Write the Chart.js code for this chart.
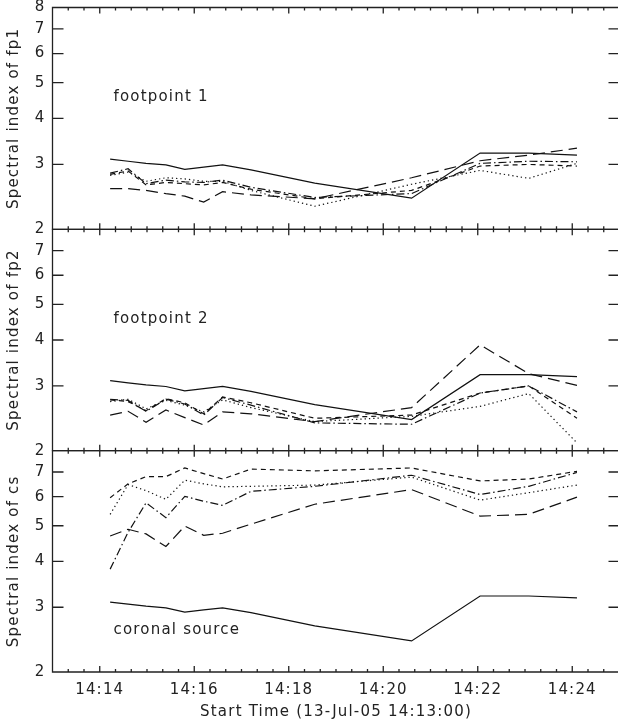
<!DOCTYPE html>
<html><head><meta charset="utf-8">
<script src="https://cdn.jsdelivr.net/npm/chart.js@4"></script>
<style>
html,body{margin:0;padding:0;background:#fff;overflow:hidden;width:618px;height:725px;}
canvas{position:absolute;left:0;top:0;}
</style></head><body>
<canvas id="c1" width="640" height="725"></canvas>
<canvas id="c2" width="640" height="725"></canvas>
<canvas id="c3" width="640" height="725"></canvas>
<script>
// time in minutes after 14:00
const times = [14.22, 14.6, 14.98, 15.4, 15.8, 16.2, 16.6, 17.2, 18.55, 20.6, 22.05, 23.08, 24.1];
const xTickValues = [14, 16, 18, 20, 22, 24];
const yTickValues = [2, 3, 4, 5, 6, 7, 8];

const solidSeries = [3.10, 3.06, 3.02, 2.99, 2.91, 2.95, 2.99, 2.90, 2.67, 2.43, 3.22, 3.22, 3.18];

const fp1Dotted   = [2.80, 2.86, 2.70, 2.76, 2.74, 2.70, 2.70, 2.55, 2.31, 2.65, 2.89, 2.75, 3.02];
const fp1Dashed   = [2.82, 2.88, 2.64, 2.68, 2.66, 2.64, 2.68, 2.57, 2.42, 2.55, 2.97, 3.00, 2.97];
const fp1DashDot  = [2.84, 2.92, 2.66, 2.72, 2.69, 2.68, 2.72, 2.60, 2.44, 2.50, 3.02, 3.06, 3.05];
const fp1LongDash = [2.58, 2.58, 2.55, 2.50, 2.46, 2.37, 2.53, 2.48, 2.42, 2.76, 3.07, 3.18, 3.32];

const fp2Dotted   = [2.72, 2.76, 2.60, 2.74, 2.66, 2.55, 2.75, 2.62, 2.40, 2.48, 2.64, 2.86, 2.10];
const fp2Dashed   = [2.75, 2.72, 2.57, 2.77, 2.70, 2.52, 2.80, 2.70, 2.45, 2.50, 2.87, 3.00, 2.45];
const fp2DashDot  = [2.76, 2.74, 2.56, 2.76, 2.68, 2.50, 2.79, 2.66, 2.38, 2.36, 2.87, 3.00, 2.55];
const fp2LongDash = [2.50, 2.56, 2.39, 2.58, 2.46, 2.35, 2.55, 2.52, 2.40, 2.62, 3.88, 3.24, 3.01];

const csDotted    = [5.37, 6.47, 6.23, 5.90, 6.65, 6.50, 6.38, 6.40, 6.45, 6.78, 5.87, 6.15, 6.45];
const csDashed    = [5.96, 6.50, 6.80, 6.80, 7.18, 6.93, 6.70, 7.13, 7.05, 7.18, 6.62, 6.70, 7.03];
const csDashDot   = [3.81, 4.80, 5.77, 5.26, 6.01, 5.83, 5.68, 6.20, 6.40, 6.86, 6.08, 6.40, 6.98];
const csLongDash  = [4.69, 4.89, 4.75, 4.39, 4.99, 4.71, 4.77, 5.05, 5.72, 6.27, 5.31, 5.37, 5.98];

const yTitles = ['Spectral index of fp1', 'Spectral index of fp2', 'Spectral index of cs'];
const panelLabels = ['footpoint 1', 'footpoint 2', 'coronal source'];
const labelX = [14.29, 14.29, 14.29];
const labelY = [4.56, 4.56, 2.60];
const xTitle = 'Start Time (13-Jul-05 14:13:00)';

const panelData = [
  [solidSeries, fp1Dotted, fp1Dashed, fp1DashDot, fp1LongDash],
  [solidSeries, fp2Dotted, fp2Dashed, fp2DashDot, fp2LongDash],
  [solidSeries, csDotted, csDashed, csDashDot, csLongDash]
];
const dashStyles = [[], [1.3, 3], [5, 4], [8, 3, 1.5, 3], [12, 6]];

// layout (pixel geometry)
const panelTops = [7.5, 229.3, 450.7];
const panelBottoms = [229.3, 450.7, 672];
const W = 640, H = 725;
const INK = '#222';

Chart.defaults.font.family = "'DejaVu Sans', sans-serif";
Chart.defaults.font.size = 15;
Chart.defaults.color = INK;

const framePlugin = {
  id: 'frame',
  beforeDraw(chart) { chart.ctx.letterSpacing = '1.2px'; },
  afterDraw(chart, args, opts) {
    const {ctx, chartArea: {left, right, top, bottom}, scales: {x, y}} = chart;
    ctx.save();
    ctx.strokeStyle = INK;
    ctx.lineWidth = 1.3;
    ctx.beginPath();
    ctx.rect(left, top, right - left, bottom - top);
    for (let k = 0; ; k++) {
      const v = 13 + k / 3;
      if (v > 25.001) break;
      const px = x.getPixelForValue(v);
      const r = (v - 14) / 2;
      const major = Math.abs(r - Math.round(r)) < 1e-6;
      const len = major ? 6 : 3;
      ctx.moveTo(px, bottom); ctx.lineTo(px, bottom - len);
      ctx.moveTo(px, top); ctx.lineTo(px, top + len);
    }
    for (const v of yTickValues) {
      const py = y.getPixelForValue(v);
      ctx.moveTo(left, py); ctx.lineTo(left + 11, py);
      ctx.moveTo(right, py); ctx.lineTo(right - 11, py);
    }
    ctx.stroke();
    ctx.fillStyle = INK;
    ctx.font = "15px 'DejaVu Sans'";
    ctx.letterSpacing = '1.2px';
    ctx.textAlign = 'left';
    ctx.textBaseline = 'middle';
    ctx.fillText(opts.text, x.getPixelForValue(opts.x), y.getPixelForValue(opts.y));
    ctx.restore();
  }
};

function zeroPad(s) { s.paddingTop = 0; s.paddingBottom = 0; s.paddingLeft = 0; s.paddingRight = 0; }

for (let i = 0; i < 3; i++) {
  const isLast = i === 2;
  const datasets = panelData[i].map((vals, j) => ({
    data: vals.map((v, k) => ({x: times[k], y: v})),
    borderColor: '#111',
    borderWidth: 1.2,
    borderDash: dashStyles[j],
    pointRadius: 0,
    fill: false,
    tension: 0
  }));
  new Chart(document.getElementById('c' + (i + 1)), {
    type: 'line',
    data: {datasets},
    plugins: [framePlugin],
    options: {
      responsive: false,
      animation: false,
      events: [],
      layout: {padding: {left: 0, right: W - 619.5, top: panelTops[i], bottom: isLast ? 0 : H - panelBottoms[i]}},
      plugins: {
        legend: {display: false},
        tooltip: {enabled: false},
        frame: {text: panelLabels[i], x: labelX[i], y: labelY[i]}
      },
      scales: {
        x: {
          type: 'linear', min: 13, max: 25,
          display: isLast,
          grid: {display: false, drawTicks: false},
          border: {display: false},
          afterBuildTicks: s => { s.ticks = xTickValues.map(v => ({value: v})); },
          afterFit: s => { s.height = isLast ? H - panelBottoms[2] : 0; zeroPad(s); },
          ticks: {
            padding: 9, autoSkip: false, maxRotation: 0, color: INK,
            font: {size: 15, lineHeight: 1.2},
            callback: v => '14:' + String(v).padStart(2, '0')
          },
          title: {display: true, text: xTitle, color: INK, font: {size: 15, lineHeight: 1.2}, padding: {top: 0, bottom: 4}}
        },
        y: {
          type: 'logarithmic', min: 2, max: 8,
          grid: {display: false, drawTicks: false},
          border: {display: false},
          afterBuildTicks: s => { s.ticks = yTickValues.map(v => ({value: v})); },
          afterFit: s => { s.width = 52.5; zeroPad(s); },
          ticks: {
            padding: 7, autoSkip: false, color: INK,
            font: {size: 15, lineHeight: 1},
            callback: v => (v === 8 && i > 0) ? '' : String(v)
          },
          title: {display: true, text: yTitles[i], color: INK, font: {size: 15, lineHeight: 1.2}, padding: {top: 5.5, bottom: 0}}
        }
      }
    }
  });
}
</script>
</body></html>
